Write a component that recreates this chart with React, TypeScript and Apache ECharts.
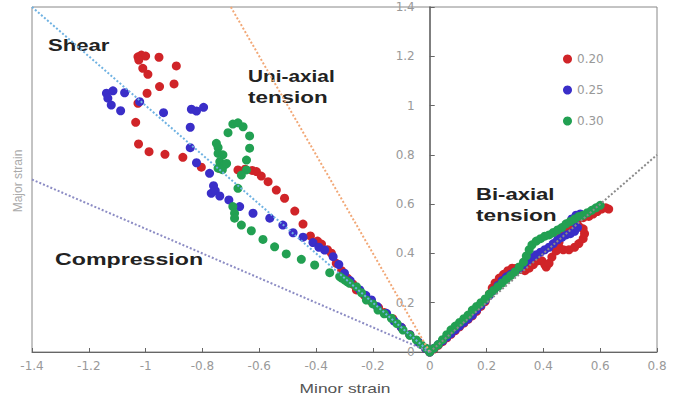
import React, { useEffect, useRef } from 'react';
import * as echarts from 'echarts';

// Tick settings
const xMin = -1.4;
const xMax = 0.8;
const yMin = 0;
const yMax = 1.4;
const tickStep = 0.2;

const seriesNames = ['0.20', '0.25', '0.30'];

// Reference strain-path lines [minor, major]
const shearLine = [[-1.4, 1.4], [0, 0]];
const uniaxialLine = [[-0.7, 1.4], [0, 0]];
const compressionLine = [[-1.4, 0.7], [0, 0]];
const biaxialLine = [[0, 0], [0.8, 0.8]];

// Series 0.20 (red)
const red020Left = [
  [-1.027, 1.198], [-1.015, 1.205], [-1.0, 1.201], [-1.024, 1.185], [-0.953, 1.196], [-0.892, 1.161],
  [-1.010, 1.151], [-0.992, 1.127], [-0.951, 1.077], [-0.900, 1.088], [-0.995, 1.050], [-1.027, 1.009],
  [-1.035, 0.932], [-1.025, 0.844], [-0.988, 0.813], [-0.932, 0.802], [-0.869, 0.790], [-0.804, 0.750],
  [-0.740, 0.745], [-0.675, 0.739], [-0.650, 0.742], [-0.625, 0.737], [-0.610, 0.732], [-0.593, 0.714],
  [-0.569, 0.691], [-0.540, 0.657], [-0.511, 0.624], [-0.475, 0.572], [-0.446, 0.519], [-0.420, 0.471],
  [-0.395, 0.450], [-0.381, 0.438], [-0.360, 0.415], [-0.346, 0.401], [-0.329, 0.360], [-0.310, 0.330],
  [-0.290, 0.300], [-0.270, 0.275], [-0.258, 0.252], [-0.230, 0.230], [-0.205, 0.205], [-0.180, 0.180],
  [-0.160, 0.160], [-0.130, 0.135], [-0.100, 0.100], [-0.070, 0.070], [-0.040, 0.040], [-0.015, 0.015]
];
const red020Right = [
  [0, 0], [0.015, 0.012], [0.03, 0.027], [0.045, 0.042], [0.06, 0.057], [0.075, 0.072], [0.09, 0.087],
  [0.105, 0.102], [0.12, 0.117], [0.135, 0.132], [0.15, 0.147], [0.165, 0.165], [0.18, 0.185],
  [0.195, 0.205], [0.21, 0.235], [0.22, 0.26], [0.23, 0.28], [0.245, 0.30], [0.26, 0.315], [0.275, 0.33],
  [0.29, 0.34], [0.305, 0.34], [0.32, 0.335], [0.335, 0.33], [0.35, 0.34], [0.365, 0.355], [0.38, 0.37],
  [0.395, 0.37], [0.405, 0.355], [0.41, 0.345], [0.42, 0.36], [0.43, 0.385], [0.445, 0.41],
  [0.455, 0.425], [0.47, 0.415], [0.49, 0.415], [0.51, 0.425], [0.525, 0.44], [0.54, 0.46],
  [0.545, 0.48], [0.54, 0.50], [0.525, 0.51], [0.505, 0.51], [0.485, 0.495], [0.47, 0.48],
  [0.46, 0.465], [0.455, 0.445], [0.50, 0.52], [0.52, 0.535], [0.54, 0.545], [0.56, 0.55],
  [0.575, 0.56], [0.59, 0.57], [0.605, 0.58], [0.62, 0.585], [0.63, 0.58]
];

// Series 0.25 (blue)
const blue025Left = [
  [-1.138, 1.050], [-1.115, 1.060], [-1.074, 1.052], [-1.133, 1.030], [-1.121, 1.002], [-1.088, 0.979],
  [-1.021, 1.016], [-0.937, 0.971], [-0.839, 0.985], [-0.821, 0.978], [-0.796, 0.993], [-0.843, 0.912],
  [-0.843, 0.829], [-0.821, 0.768], [-0.775, 0.725], [-0.761, 0.675], [-0.769, 0.644], [-0.755, 0.655],
  [-0.739, 0.633], [-0.707, 0.617], [-0.669, 0.590], [-0.622, 0.563], [-0.563, 0.543], [-0.517, 0.515],
  [-0.481, 0.484], [-0.446, 0.466], [-0.411, 0.444], [-0.390, 0.425], [-0.370, 0.414], [-0.340, 0.387],
  [-0.320, 0.355], [-0.300, 0.320], [-0.280, 0.290], [-0.246, 0.252], [-0.225, 0.230], [-0.205, 0.211],
  [-0.185, 0.185], [-0.152, 0.157], [-0.125, 0.125], [-0.100, 0.100], [-0.070, 0.070], [-0.040, 0.040],
  [-0.015, 0.015]
];
const blue025Right = [
  [0, 0], [0.015, 0.015], [0.03, 0.03], [0.045, 0.045], [0.06, 0.06], [0.075, 0.075], [0.09, 0.09],
  [0.105, 0.105], [0.12, 0.12], [0.135, 0.135], [0.15, 0.15], [0.165, 0.17], [0.18, 0.19], [0.195, 0.21],
  [0.21, 0.23], [0.225, 0.25], [0.24, 0.27], [0.255, 0.29], [0.27, 0.305], [0.285, 0.315], [0.30, 0.325],
  [0.315, 0.34], [0.33, 0.355], [0.345, 0.37], [0.36, 0.385], [0.375, 0.395], [0.39, 0.405],
  [0.405, 0.415], [0.42, 0.425], [0.435, 0.44], [0.45, 0.455], [0.465, 0.465], [0.48, 0.475],
  [0.495, 0.48], [0.51, 0.49], [0.52, 0.505], [0.51, 0.525], [0.50, 0.54], [0.515, 0.555], [0.53, 0.56]
];

// Series 0.30 (green)
const green030Left = [
  [-0.693, 0.925], [-0.675, 0.930], [-0.657, 0.914], [-0.710, 0.890], [-0.634, 0.877], [-0.751, 0.847],
  [-0.745, 0.830], [-0.634, 0.827], [-0.745, 0.806], [-0.728, 0.800], [-0.739, 0.772], [-0.722, 0.759],
  [-0.745, 0.746], [-0.730, 0.740], [-0.715, 0.765], [-0.645, 0.779], [-0.645, 0.739], [-0.663, 0.718],
  [-0.675, 0.664], [-0.693, 0.590], [-0.687, 0.563], [-0.687, 0.543], [-0.663, 0.515], [-0.628, 0.492],
  [-0.587, 0.457], [-0.546, 0.427], [-0.505, 0.398], [-0.452, 0.376], [-0.405, 0.353], [-0.352, 0.322],
  [-0.317, 0.306], [-0.310, 0.300], [-0.299, 0.292], [-0.290, 0.285], [-0.282, 0.279], [-0.258, 0.265],
  [-0.240, 0.240], [-0.223, 0.211], [-0.200, 0.195], [-0.182, 0.170], [-0.160, 0.155], [-0.135, 0.137],
  [-0.115, 0.115], [-0.094, 0.089], [-0.070, 0.068], [-0.047, 0.049], [-0.030, 0.030], [-0.012, 0.015]
];
const green030Right = [
  [0, 0], [0.015, 0.015], [0.03, 0.03], [0.045, 0.05], [0.06, 0.07], [0.075, 0.09], [0.09, 0.105],
  [0.105, 0.12], [0.12, 0.135], [0.135, 0.15], [0.15, 0.17], [0.165, 0.185], [0.18, 0.20], [0.195, 0.215],
  [0.21, 0.235], [0.225, 0.25], [0.24, 0.265], [0.255, 0.28], [0.27, 0.295], [0.285, 0.31], [0.30, 0.325],
  [0.315, 0.345], [0.33, 0.365], [0.34, 0.39], [0.35, 0.415], [0.36, 0.435], [0.375, 0.45], [0.39, 0.46],
  [0.405, 0.47], [0.42, 0.475], [0.435, 0.485], [0.45, 0.495], [0.465, 0.505], [0.48, 0.52],
  [0.495, 0.53], [0.51, 0.54], [0.525, 0.55], [0.54, 0.555], [0.555, 0.565], [0.57, 0.575],
  [0.585, 0.585], [0.60, 0.595]
];

const fmt = (v: number) => String(Math.round(v * 10) / 10);

const GRID_LEFT = 32;
const GRID_RIGHT = 25;
const CHART_W = 682;

export default function App() {
  const ref = useRef<HTMLDivElement>(null);
  useEffect(() => {
    if (!ref.current) return;
    const chart = echarts.init(ref.current, null, { renderer: 'svg' });
    const labelFont = 'DejaVu Sans';
    const plotW = CHART_W - GRID_LEFT - GRID_RIGHT;
    const zeroOffset = ((0 - xMin) / (xMax - xMin)) * plotW;
    const annoStyle = (text: string) => ({
      text,
      fontFamily: 'Liberation Sans, Arial, sans-serif',
      fontWeight: 'bold',
      fontSize: 16,
      fill: '#222',
      verticalAlign: 'middle',
      align: 'left'
    });
    const dotted = (color: string) => ({ type: 'dotted', width: 2, color });
    chart.setOption({
      animation: false,
      backgroundColor: '#fff',
      grid: { left: GRID_LEFT, right: GRID_RIGHT, top: 7, bottom: 51, show: true, borderColor: '#888', borderWidth: 1 },
      xAxis: {
        type: 'value', min: xMin, max: xMax, interval: tickStep,
        splitLine: { show: false },
        axisLine: { lineStyle: { color: '#666' } },
        axisTick: { inside: true, length: 4, lineStyle: { color: '#666' } },
        axisLabel: { margin: 8, color: '#999', fontSize: 12, fontFamily: labelFont, formatter: fmt }
      },
      yAxis: {
        type: 'value', min: yMin, max: yMax, interval: tickStep,
        position: 'left',
        offset: -zeroOffset,
        splitLine: { show: false },
        axisLine: { onZero: false, lineStyle: { color: '#555', width: 1.5 } },
        axisTick: { inside: true, length: 5, lineStyle: { color: '#666' } },
        axisLabel: { margin: 15, color: '#999', fontSize: 12, fontFamily: labelFont, formatter: fmt }
      },
      legend: {
        data: seriesNames,
        orient: 'vertical',
        left: 558,
        top: 47,
        itemWidth: 9,
        itemHeight: 9,
        itemGap: 17,
        icon: 'circle',
        textStyle: { color: '#999', fontSize: 12, fontFamily: labelFont, lineHeight: 14 }
      },
      graphic: [
        { type: 'text', x: 48, y: 46, scaleX: 1.38, style: annoStyle('Shear') },
        { type: 'text', x: 248, y: 76, scaleX: 1.3, style: annoStyle('Uni-axial') },
        { type: 'text', x: 248, y: 97, scaleX: 1.4, style: annoStyle('tension') },
        { type: 'text', x: 55, y: 259, scaleX: 1.45, style: annoStyle('Compression') },
        { type: 'text', x: 476, y: 195, scaleX: 1.38, style: annoStyle('Bi-axial') },
        { type: 'text', x: 476, y: 215, scaleX: 1.42, style: annoStyle('tension') },
        {
          type: 'text', x: 345, y: 389, scaleX: 1.45,
          style: { text: 'Minor strain', fontFamily: 'Liberation Sans, Arial, sans-serif', fontSize: 12, fill: '#555', align: 'center', verticalAlign: 'middle' }
        },
        {
          type: 'text', x: 18, y: 181, rotation: Math.PI / 2,
          style: { text: 'Major strain', fontFamily: 'Liberation Sans, Arial, sans-serif', fontSize: 12, fill: '#aaa', align: 'center', verticalAlign: 'middle' }
        }
      ],
      series: [
        { type: 'line', data: shearLine, symbol: 'none', silent: true, lineStyle: dotted('#6fb2e2') },
        { type: 'line', data: uniaxialLine, symbol: 'none', silent: true, lineStyle: dotted('#f2a877') },
        { type: 'line', data: compressionLine, symbol: 'none', silent: true, lineStyle: dotted('#8c8cc4') },
        { type: 'line', data: biaxialLine, symbol: 'none', silent: true, lineStyle: dotted('#8a8a8a') },
        { name: seriesNames[0], type: 'scatter', symbolSize: 9, data: red020Left.concat(red020Right), itemStyle: { color: '#d02428', opacity: 1 } },
        { name: seriesNames[1], type: 'scatter', symbolSize: 9, data: blue025Left.concat(blue025Right), itemStyle: { color: '#3a2ec8', opacity: 1 } },
        { name: seriesNames[2], type: 'scatter', symbolSize: 9, data: green030Left.concat(green030Right), itemStyle: { color: '#22a052', opacity: 1 } }
      ]
    });
    return () => chart.dispose();
  }, []);
  return <div ref={ref} style={{ position: 'absolute', left: 0, top: 0, width: 682, height: 403 }} />;
}
